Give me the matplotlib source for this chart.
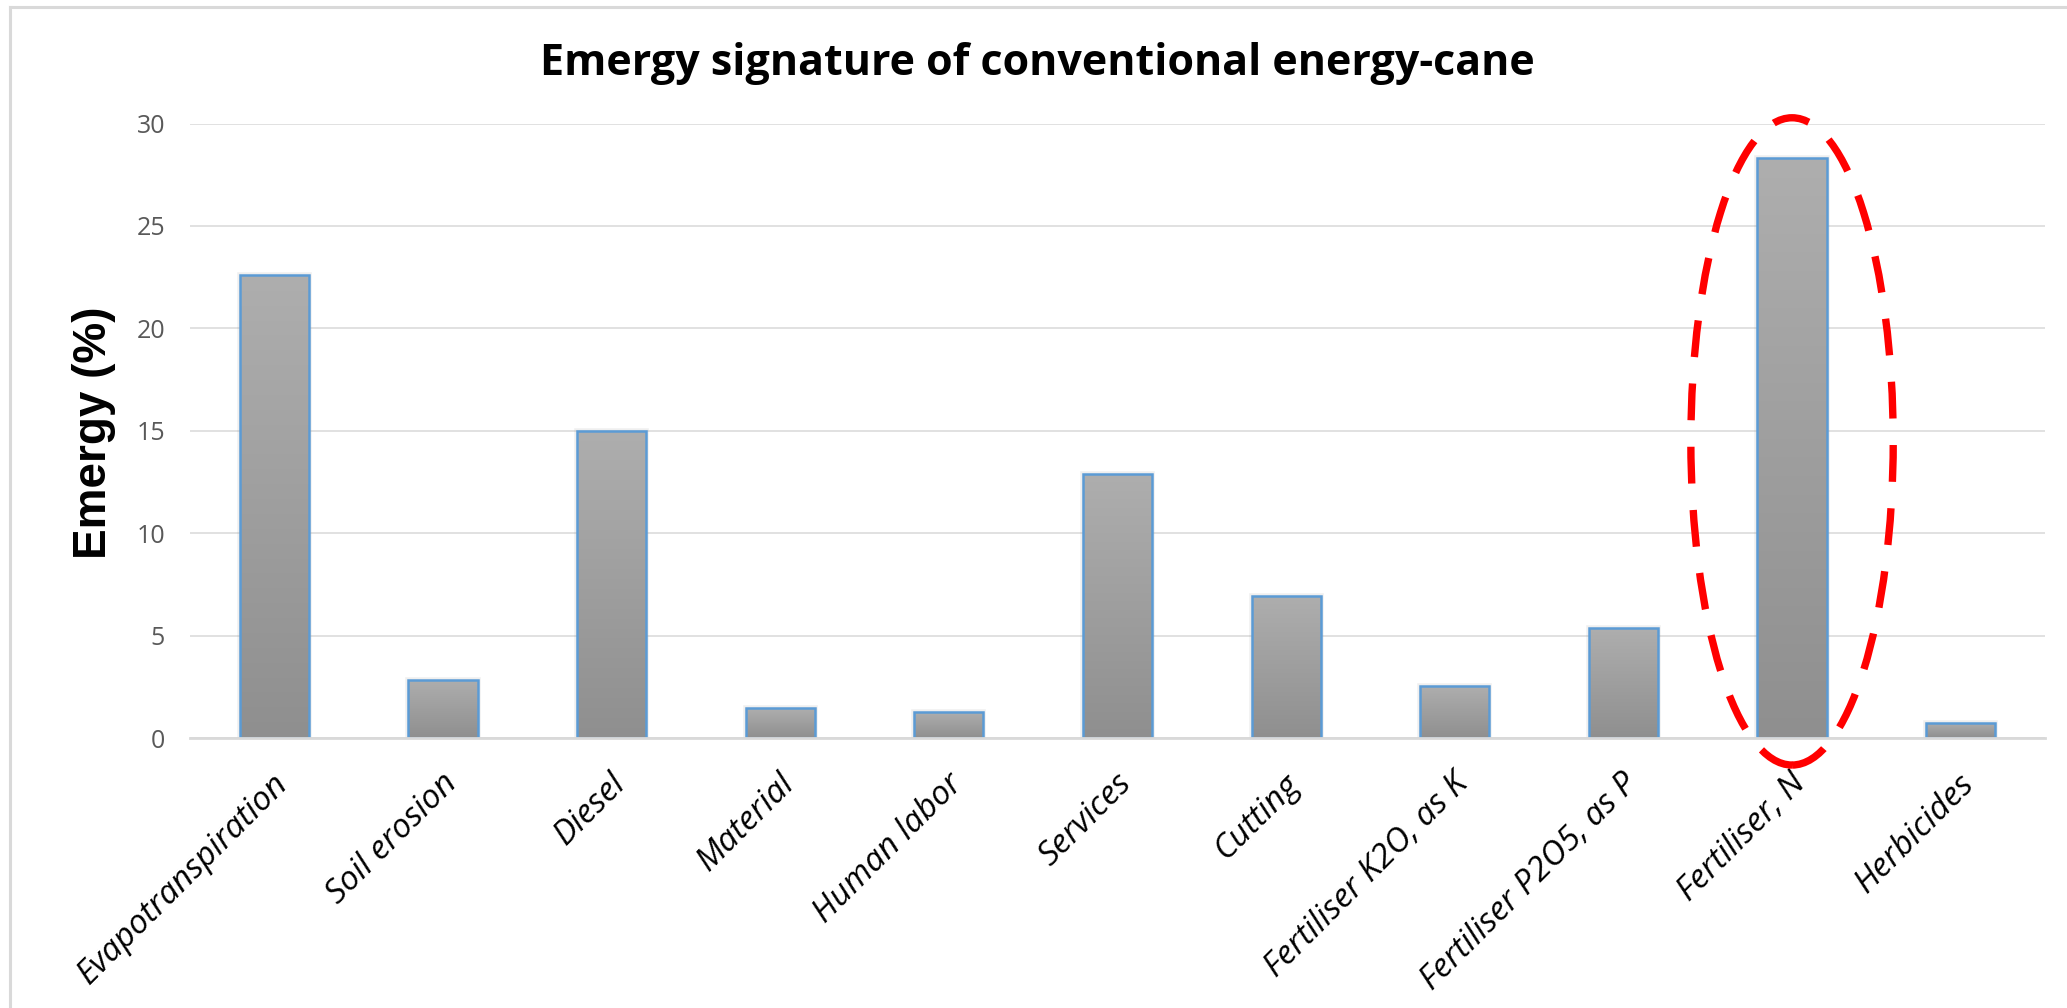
import numpy as np
import matplotlib
matplotlib.use("Agg")
import matplotlib.pyplot as plt
import matplotlib.transforms as mtransforms
from matplotlib.patches import Ellipse, Rectangle
from matplotlib.lines import Line2D
from matplotlib.colors import LinearSegmentedColormap

# ---- data -------------------------------------------------------------
categories = [
    "Evapotranspiration", "Soil erosion", "Diesel", "Material", "Human labor",
    "Services", "Cutting", "Fertiliser K2O, as K", "Fertiliser P2O5, as P",
    "Fertiliser, N", "Herbicides",
]
emergy_pct = [22.6, 2.85, 15.0, 1.45, 1.25, 12.9, 6.95, 2.52, 5.35, 28.3, 0.75]
y_ticks = [0, 5, 10, 15, 20, 25, 30]
y_tick_labels = ["0", "5", "10", "15", "20", "25", "30"]
highlight = "Fertiliser, N"

title = "Emergy signature of conventional energy-cane"
ylabel = "Emergy (%)"

# ---- figure layout ----------------------------------------------------
W, H = 2067, 1008
fig = plt.figure(figsize=(W / 100, H / 100), dpi=100)
ax = fig.add_axes([190 / W, 1 - 738 / H, (2045 - 190) / W, (738 - 123.5) / H])

x = np.arange(len(categories))

# bar outlines (blue edge); the grey gradient is painted inside each one
bars = ax.bar(x, emergy_pct, width=0.41, facecolor="none",
              edgecolor="#5b9bd5", linewidth=1.8, zorder=3)

grad = np.linspace(0, 1, 256).reshape(-1, 1)
bar_cmap = LinearSegmentedColormap.from_list("bar_grey", ["#8f8f8f", "#aeaeae"])
for b in bars:
    x0, y0 = b.get_x(), b.get_y()
    w, h = b.get_width(), b.get_height()
    shadow = Rectangle((x0, y0), w, h, facecolor="#9a9a9a", edgecolor="#9a9a9a",
                       linewidth=4, alpha=0.15, zorder=1.5)
    ax.add_patch(shadow)
    im = ax.imshow(grad, extent=(x0, x0 + w, y0, y0 + h), origin="lower",
                   cmap=bar_cmap, aspect="auto", zorder=2,
                   interpolation="bilinear")
    im.set_clip_path(b)

ax.set_xlim(-0.5, len(categories) - 0.5)
ax.set_ylim(0, 30)

# grid and spines
ax.set_yticks(y_ticks)
ax.set_yticklabels(y_tick_labels, fontfamily="Open Sans", fontsize=18,
                   color="#595959")
ax.yaxis.grid(True, color="#d9d9d9", linewidth=1.1)
ax.set_axisbelow(True)
for side in ("top", "right", "left"):
    ax.spines[side].set_visible(False)
ax.spines["bottom"].set_color("#d9d9d9")
ax.spines["bottom"].set_linewidth(2.0)
ax.spines["bottom"].set_zorder(4)
ax.tick_params(axis="both", length=0)
ax.tick_params(axis="y", pad=18)
ax.set_xticks(x)
ax.set_xticklabels([])

# rotated category labels
label_tr = (mtransforms.blended_transform_factory(ax.transData, ax.transAxes)
            + mtransforms.ScaledTranslation(9 / 100, -41 / 100, fig.dpi_scale_trans))
for i, cat in enumerate(categories):
    ax.text(i, 0, cat, transform=label_tr, rotation=45, rotation_mode="anchor",
            ha="right", va="center", fontfamily="Open Sans", style="italic",
            fontsize=24, color="black")

# dashed red ellipse around the highlighted input
hi = categories.index(highlight)
ring = Ellipse((hi, 14.48), width=1.2, height=31.6, fill=False,
               edgecolor="#ff0000", linewidth=5.3,
               linestyle=(0, (5.0, 3.6)), zorder=6, clip_on=False)
ax.add_patch(ring)

# titles
fig.text(1037 / W, 1 - 75 / H, title, ha="center", va="baseline",
         fontfamily="Open Sans", fontweight="bold", fontsize=31)
fig.text(94 / W, 1 - 433 / H, ylabel, rotation=90, ha="center", va="center",
         fontfamily="Liberation Sans", fontweight="bold", fontsize=33)

# chart-area frame (top and left edges)
fig.add_artist(Line2D([10 / W, 10 / W], [0, 1 - 7 / H], transform=fig.transFigure,
                      color="#d9d9d9", linewidth=2.2))
fig.add_artist(Line2D([10 / W, 1], [1 - 7 / H, 1 - 7 / H], transform=fig.transFigure,
                      color="#d9d9d9", linewidth=2.2))

fig.savefig("out.png", dpi=100)
